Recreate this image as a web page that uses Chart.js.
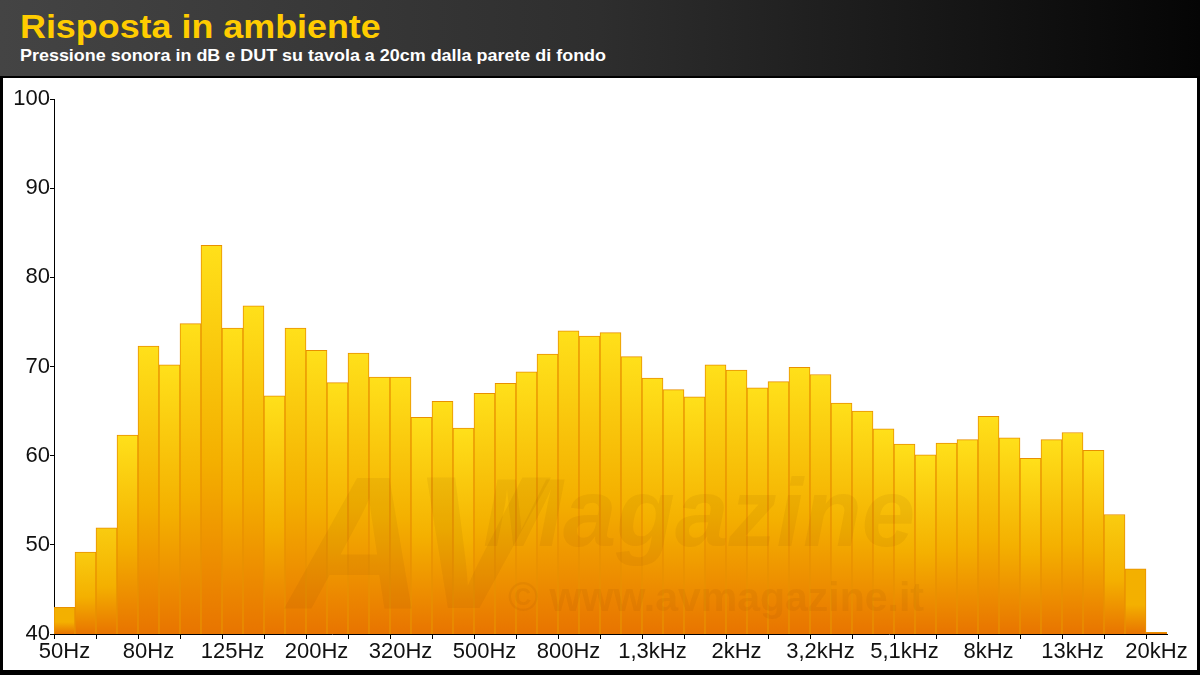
<!DOCTYPE html>
<html>
<head>
<meta charset="utf-8">
<script src="https://cdn.jsdelivr.net/npm/chart.js@4/dist/chart.umd.min.js"></script>
<style>
    body { margin: 0; background: #000; width: 1200px; height: 675px; overflow: hidden; font-family: "Liberation Sans", Arial, sans-serif; }
    #header { position: absolute; left: 0; top: 0; width: 1200px; height: 76px;
        background: linear-gradient(to right, #444 0%, #2e2e2e 50%, #050505 100%); }
    #title { position: absolute; left: 20px; top: 9px; font-size: 34px; line-height: 34px; font-weight: bold;
        color: #FFCC00; transform: scaleX(1.055); transform-origin: left; white-space: nowrap; }
    #subtitle { position: absolute; left: 20px; top: 47px; font-size: 17px; line-height: 17px; font-weight: bold;
        color: #fff; transform: scaleX(1.055); transform-origin: left; white-space: nowrap; }
    #panel { position: absolute; left: 3px; top: 78px; width: 1194px; height: 592px; background: #fff; }
</style>
</head>
<body>
<div id="header">
    <div id="title">Risposta in ambiente</div>
    <div id="subtitle">Pressione sonora in dB e DUT su tavola a 20cm dalla parete di fondo</div>
</div>
<div id="panel"><canvas id="room-chart"></canvas></div>
<script>
// 1/6 octave bands, 50Hz .. 20kHz
const bands = [
    '50Hz', '56Hz', '63Hz', '71Hz',
    '80Hz', '90Hz', '100Hz', '112Hz',
    '125Hz', '140Hz', '160Hz', '180Hz',
    '200Hz', '224Hz', '250Hz', '280Hz',
    '320Hz', '355Hz', '400Hz', '450Hz',
    '500Hz', '560Hz', '630Hz', '710Hz',
    '800Hz', '900Hz', '1kHz', '1,1kHz',
    '1,3kHz', '1,4kHz', '1,6kHz', '1,8kHz',
    '2kHz', '2,2kHz', '2,5kHz', '2,8kHz',
    '3,2kHz', '3,6kHz', '4kHz', '4,5kHz',
    '5,1kHz', '5,6kHz', '6,3kHz', '7,1kHz',
    '8kHz', '9kHz', '10kHz', '11kHz',
    '13kHz', '14kHz', '16kHz', '18kHz',
    '20kHz'
];

// SPL in dB
const spl = [
    43.0, 49.2, 51.9, 62.3,
    72.3, 70.2, 74.8, 83.6,
    74.3, 76.8, 66.7, 74.3,
    71.8, 68.2, 71.5, 68.8,
    68.8, 64.3, 66.1, 63.1,
    67.0, 68.1, 69.4, 71.4,
    74.0, 73.4, 73.8, 71.1,
    68.7, 67.4, 66.6, 70.2,
    69.6, 67.6, 68.3, 69.9,
    69.1, 65.9, 65.0, 63.0,
    61.3, 60.1, 61.4, 61.8,
    64.4, 62.0, 59.7, 61.8,
    62.6, 60.6, 53.4, 47.3,
    40.2
];

const yMin = 40;
const yMax = 100;
const labelEvery = 4;

const axisFont = { family: '"Liberation Sans", Arial, sans-serif', size: 22 };

// faint logo over the bars
const watermark = {
    id: 'watermark',
    afterDatasetsDraw(chart) {
        const c = chart.ctx;
        c.save();
        c.globalAlpha = 0.065;
        c.fillStyle = '#6a3000';
        c.font = 'italic bold 190px "Liberation Sans", Arial, sans-serif';
        c.fillText('AV', 285, 530);
        c.font = 'italic bold 96px "Liberation Sans", Arial, sans-serif';
        c.fillText('Magazine', 480, 468);
        c.font = 'bold 41px "Liberation Sans", Arial, sans-serif';
        c.fillText('\u00A9 www.avmagazine.it', 505, 533);
        c.restore();
    }
};

function barFill(ctx) {
    const chart = ctx.chart;
    if (!chart.chartArea || ctx.type !== 'data') return '#F5B000';
    const y = chart.scales.y;
    const top = y.getPixelForValue(ctx.raw);
    const bottom = y.getPixelForValue(yMin);
    if (bottom - top < 3) return '#E87400';
    const g = chart.ctx.createLinearGradient(0, top, 0, bottom);
    const h = Math.min(1, (ctx.raw - yMin) / 25);
    g.addColorStop(0, h > 0.6 ? '#FFE01A' : (h > 0.3 ? '#F9CC10' : '#F3B000'));
    g.addColorStop(0.55, '#F4B000');
    g.addColorStop(1, '#E87400');
    return g;
}

new Chart(document.getElementById('room-chart'), {
    type: 'bar',
    data: {
        labels: bands,
        datasets: [{
            label: 'SPL',
            data: spl,
            backgroundColor: barFill,
            borderColor: '#E89000',
            borderWidth: 1,
            categoryPercentage: 1,
            barPercentage: 1
        }]
    },
    options: {
        responsive: true,
        maintainAspectRatio: false,
        animation: false,
        layout: { padding: { top: 21, right: 30, left: 0, bottom: 0 } },
        plugins: { legend: { display: false }, tooltip: { enabled: false } },
        scales: {
            x: {
                offset: true,
                afterFit: scale => { scale.height = 36; },
                border: { display: true, color: '#000', width: 1 },
                grid: {
                    offset: true,
                    drawOnChartArea: false,
                    drawTicks: true,
                    tickLength: 5,
                    color: ctx => (ctx.index % 2 === 0 ? '#000' : 'rgba(0,0,0,0)')
                },
                ticks: {
                    autoSkip: false,
                    maxRotation: 0,
                    padding: 0,
                    color: '#111',
                    font: axisFont,
                    callback: function (value, index) {
                        return index % labelEvery === 0 ? this.getLabelForValue(value) : '';
                    }
                }
            },
            y: {
                min: yMin,
                max: yMax,
                afterFit: scale => { scale.width = 51; },
                border: { display: true, color: '#000', width: 1 },
                grid: { drawOnChartArea: false, drawTicks: true, tickLength: 4, color: '#000' },
                ticks: { stepSize: 10, padding: 0, color: '#111', font: axisFont }
            }
        }
    },
    plugins: [watermark]
});
</script>
</body>
</html>
